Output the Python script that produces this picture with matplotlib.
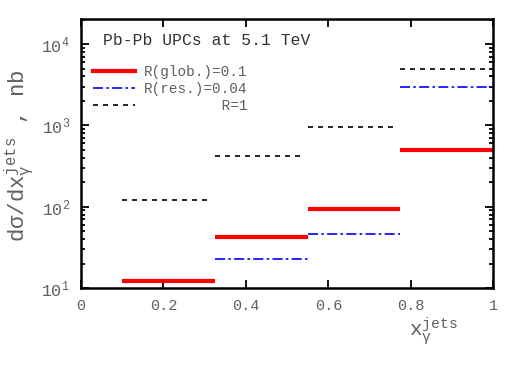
import numpy as np
import matplotlib
matplotlib.use('Agg')
import matplotlib.pyplot as plt
from matplotlib.ticker import LogLocator, NullFormatter

# bin edges in x_gamma^jets
bin_lo = [0.1, 0.325, 0.55, 0.775]
bin_hi = [0.325, 0.55, 0.775, 1.0]

# cross sections, nb
glob_r01 = [12.2, 42.5, 95, 500]
res_r004 = [None, 22.5, 46, 3000]
r_one = [122, 420, 950, 5000]

plt.rcParams['font.family'] = ['Liberation Mono', 'DejaVu Sans Mono']
plt.rcParams['mathtext.fontset'] = 'custom'
plt.rcParams['mathtext.rm'] = 'Liberation Mono'
plt.rcParams['mathtext.it'] = 'Liberation Mono'

fig = plt.figure(figsize=(5.23, 3.66), dpi=100)
ax = fig.add_axes([0.155, 0.213, 0.788, 0.735])

grey = '#606060'

for i in range(4):
    ax.hlines(r_one[i], bin_lo[i], bin_hi[i] - 0.01, colors='black', linestyles=(0, (3, 3)), lw=1.2)
    if res_r004[i] is not None:
        ax.hlines(res_r004[i], bin_lo[i], bin_hi[i], colors='blue', linestyles=(0, (6, 2, 1.5, 2)), lw=1.2)
    ax.hlines(glob_r01[i], bin_lo[i], bin_hi[i], colors='red', lw=3)

ax.set_yscale('log')
ax.set_xlim(0, 1)
ax.set_ylim(10, 2.03e4)
ax.set_xticks([0, 0.2, 0.4, 0.6, 0.8, 1])
ax.set_xticklabels(['0', '0.2', '0.4', '0.6', '0.8', '1'])
ax.yaxis.set_minor_locator(LogLocator(base=10, subs=np.arange(2, 10)))
ax.yaxis.set_minor_formatter(NullFormatter())
ax.tick_params(which='both', direction='in', top=True, right=True, labelcolor=grey, width=1.3)
ax.tick_params(axis='x', labelsize=11)
ax.tick_params(axis='y', labelsize=12)
ax.tick_params(which='major', length=6, pad=8)
ax.tick_params(which='minor', length=3)
for s in ax.spines.values():
    s.set_linewidth(1.8)

ax.set_ylabel(r'd$\sigma$/dx$_\gamma^{\rm jets}$ , nb', color=grey, fontsize=16)
ax.yaxis.set_label_coords(-0.11, 0.49)
ax.text(0.795, -0.1, r'x$_\gamma^{\rm jets}$', transform=ax.transAxes, ha='left', va='top',
        color=grey, fontsize=15)

ax.text(0.053, 0.905, 'Pb-Pb UPCs at 5.1 TeV', transform=ax.transAxes, color='#333333', fontsize=11.8)

ax.plot([], [], color='red', lw=3, label='R(glob.)=0.1')
ax.plot([], [], color='blue', lw=1.2, ls=(0, (6, 2, 1.5, 2)), label='R(res.)=0.04')
ax.plot([], [], color='black', lw=1.2, ls=(0, (3, 3)), label='         R=1')
leg = ax.legend(loc='upper left', bbox_to_anchor=(0.005, 0.865), frameon=False, fontsize=10.4,
                handlelength=2.9, handletextpad=0.6, labelspacing=0.2, borderaxespad=0.3)
for t in leg.get_texts():
    t.set_color(grey)

fig.savefig('out.png', dpi=100)
